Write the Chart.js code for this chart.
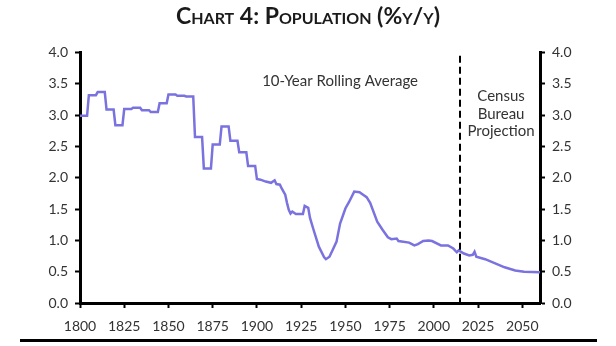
<!DOCTYPE html>
<html>
<head>
<meta charset="utf-8">
<script src="https://cdn.jsdelivr.net/npm/chart.js@4"></script>
<style>
  html, body { margin: 0; padding: 0; background: #fff; }
  #wrap { width: 616px; height: 346px; position: relative; }
</style>
</head>
<body>
<div id="wrap"><canvas id="c" width="616" height="346"></canvas></div>
<script>
// ---- Data ----
const titleText = "Chart 4: Population (%y/y)";
const years = [
  1800,1804,1805,1809,1810,1814,1815,1819,1820,1824,1825,1829,1830,1834,1835,1839,1840,1844,
  1845,1849,1850,1854,1855,1859,1860,1864,1865,1869,1870,1874,1875,1879,1880,1884,1885,1889,
  1890,1894,1895,1899,1900,1902,1905,1908,1910,1911,1913,1914,1916,1917,1918,1919,1920,1922,
  1926,1927,1929,1930,1932,1935,1938,1939,1941,1943,1945,1947,1950,1952,1955,1958,1960,1962,
  1964,1968,1971,1974,1976,1979,1980,1986,1989,1991,1994,1997,1999,2004,2008,2011,2013,2014,
  2017,2020,2022,2023,2024,2029,2035,2040,2046,2051,2060
];
const growth = [
  2.99,2.99,3.32,3.32,3.37,3.37,3.09,3.09,2.84,2.84,3.10,3.10,3.12,3.12,3.08,3.08,3.05,3.05,
  3.19,3.19,3.33,3.33,3.31,3.31,3.30,3.30,2.65,2.65,2.15,2.15,2.53,2.53,2.82,2.82,2.59,2.59,
  2.41,2.41,2.19,2.19,1.98,1.97,1.94,1.92,1.96,1.90,1.89,1.83,1.73,1.60,1.49,1.43,1.46,1.42,
  1.42,1.55,1.52,1.36,1.17,0.90,0.73,0.70,0.74,0.86,0.98,1.27,1.51,1.61,1.78,1.77,1.73,1.69,
  1.60,1.30,1.17,1.05,1.02,1.03,0.99,0.965,0.92,0.94,0.99,1.00,0.99,0.92,0.92,0.87,0.81,0.84,
  0.79,0.76,0.77,0.82,0.74,0.70,0.63,0.57,0.52,0.50,0.49
];
const xTicks = [1800,1825,1850,1875,1900,1925,1950,1975,2000,2025,2050];
const yTicks = [0.0,0.5,1.0,1.5,2.0,2.5,3.0,3.5,4.0];
const projectionStart = 2015;
const noteLeft = "10-Year Rolling Average";
const noteRight = ["Census", "Bureau", "Projection"];

const FONT = "Lato, 'Open Sans', sans-serif";
const LINE_COLOR = "#7a72de";
const TEXT_COLOR = "#333333";

const points = years.map((y, i) => ({ x: y, y: growth[i] }));

const decor = {
  id: 'decor',
  afterDatasetsDraw(chart) {
    const ctx = chart.ctx;
    const xs = chart.scales.x, ys = chart.scales.y;
    ctx.save();
    // projection divider
    const px = Math.round(xs.getPixelForValue(projectionStart));
    ctx.strokeStyle = '#000';
    ctx.lineWidth = 2;
    ctx.setLineDash([7, 4]);
    ctx.beginPath();
    ctx.moveTo(px, ys.getPixelForValue(3.95));
    ctx.lineTo(px, ys.getPixelForValue(0));
    ctx.stroke();
    ctx.setLineDash([]);
    // notes
    ctx.fillStyle = TEXT_COLOR;
    ctx.font = "15px " + FONT;
    ctx.textAlign = 'center';
    ctx.textBaseline = 'middle';
    ctx.fillText(noteLeft, xs.getPixelForValue(1947), ys.getPixelForValue(3.55));
    const cx = xs.getPixelForValue(2038);
    const cy = ys.getPixelForValue(3.30);
    noteRight.forEach((t, i) => ctx.fillText(t, cx, cy + i * 17.5));
    // bottom rule
    ctx.fillStyle = '#000';
    ctx.fillRect(20, 339, 577, 3);
    ctx.restore();
  }
};

const axisBase = {
  type: 'linear',
  min: 0, max: 4,
  border: { display: true, color: '#000', width: 3 },
  grid: { display: true, drawOnChartArea: false, drawTicks: true, tickLength: 5, tickWidth: 2, tickColor: '#000' },
  ticks: { color: TEXT_COLOR, font: { family: FONT, size: 14 }, padding: 7,
           callback: v => Number(v).toFixed(1) },
  afterBuildTicks: s => { s.ticks = yTicks.map(v => ({ value: v })); }
};

new Chart(document.getElementById('c'), {
  type: 'line',
  data: {
    datasets: [{
      data: points,
      borderColor: LINE_COLOR,
      borderWidth: 2.5,
      pointRadius: 0,
      tension: 0,
      fill: false,
      clip: false
    }]
  },
  options: {
    responsive: false,
    devicePixelRatio: 1,
    animation: false,
    layout: { padding: { left: 0, right: 0, top: 0, bottom: 0 } },
    plugins: {
      legend: { display: false },
      tooltip: { enabled: false },
      title: {
        display: true,
        text: titleText,
        color: '#1a1a1a',
        font: { family: FONT, size: 23, weight: 'small-caps bold' },
        padding: { top: 3, bottom: 22 }
      }
    },
    scales: {
      x: {
        type: 'linear',
        min: 1800, max: 2060,
        border: { display: true, color: '#000', width: 3 },
        grid: { display: true, drawOnChartArea: false, drawTicks: true, tickLength: 5, tickWidth: 2, tickColor: '#000' },
        ticks: { color: TEXT_COLOR, font: { family: FONT, size: 14 }, padding: 10, maxRotation: 0,
                 callback: v => String(v) },
        afterBuildTicks: s => { s.ticks = xTicks.map(v => ({ value: v })); },
        afterFit: s => { s.height = 43; }
      },
      y: Object.assign({}, axisBase, { position: 'left', afterFit: s => { s.width = 80; } }),
      y2: Object.assign({}, axisBase, { position: 'right', afterFit: s => { s.width = 76; } })
    }
  },
  plugins: [decor]
});
</script>
</body>
</html>
